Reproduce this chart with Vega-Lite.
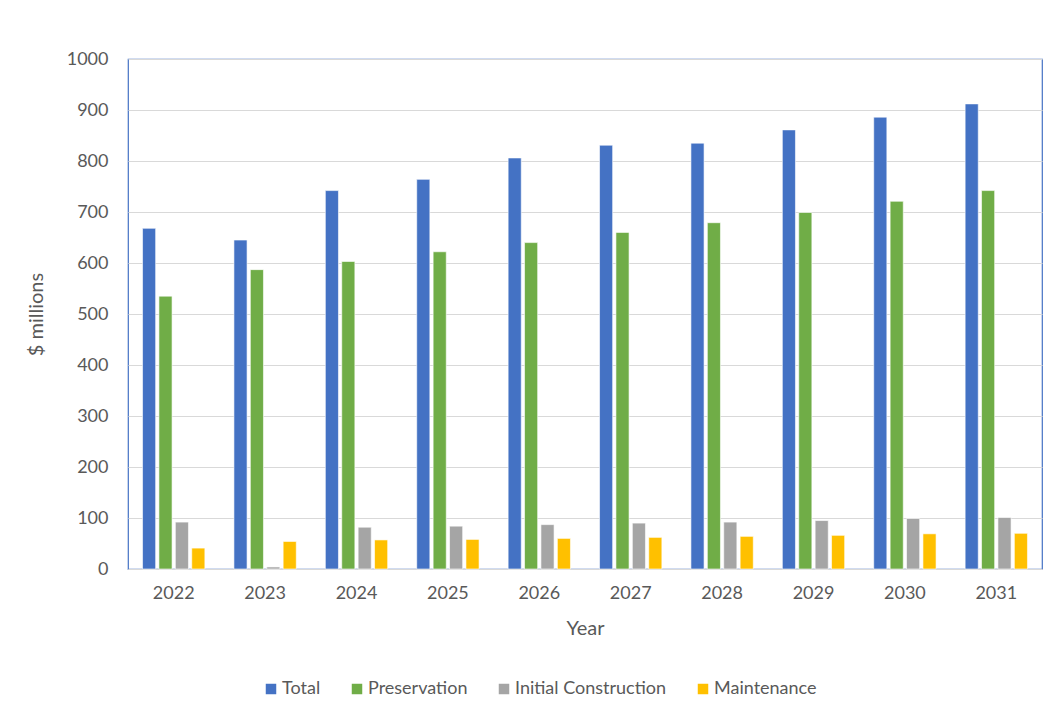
{
  "$schema": "https://vega.github.io/schema/vega-lite/v6.json",
  "width": 914,
  "height": 510,
  "autosize": {"type": "none"},
  "padding": {"left": 128, "top": 59, "right": 12, "bottom": 148},
  "background": "#ffffff",
  "data": {
    "values": [
      {"year": "2022", "series": "Total", "value": 668},
      {"year": "2022", "series": "Preservation", "value": 535},
      {"year": "2022", "series": "Initial Construction", "value": 92},
      {"year": "2022", "series": "Maintenance", "value": 41},
      {"year": "2023", "series": "Total", "value": 645},
      {"year": "2023", "series": "Preservation", "value": 587},
      {"year": "2023", "series": "Initial Construction", "value": 4},
      {"year": "2023", "series": "Maintenance", "value": 54},
      {"year": "2024", "series": "Total", "value": 742},
      {"year": "2024", "series": "Preservation", "value": 603},
      {"year": "2024", "series": "Initial Construction", "value": 82},
      {"year": "2024", "series": "Maintenance", "value": 57},
      {"year": "2025", "series": "Total", "value": 764},
      {"year": "2025", "series": "Preservation", "value": 622},
      {"year": "2025", "series": "Initial Construction", "value": 84},
      {"year": "2025", "series": "Maintenance", "value": 58},
      {"year": "2026", "series": "Total", "value": 806},
      {"year": "2026", "series": "Preservation", "value": 640},
      {"year": "2026", "series": "Initial Construction", "value": 87},
      {"year": "2026", "series": "Maintenance", "value": 60},
      {"year": "2027", "series": "Total", "value": 831},
      {"year": "2027", "series": "Preservation", "value": 660},
      {"year": "2027", "series": "Initial Construction", "value": 90},
      {"year": "2027", "series": "Maintenance", "value": 62},
      {"year": "2028", "series": "Total", "value": 835},
      {"year": "2028", "series": "Preservation", "value": 679},
      {"year": "2028", "series": "Initial Construction", "value": 92},
      {"year": "2028", "series": "Maintenance", "value": 64},
      {"year": "2029", "series": "Total", "value": 861},
      {"year": "2029", "series": "Preservation", "value": 699},
      {"year": "2029", "series": "Initial Construction", "value": 95},
      {"year": "2029", "series": "Maintenance", "value": 66},
      {"year": "2030", "series": "Total", "value": 886},
      {"year": "2030", "series": "Preservation", "value": 721},
      {"year": "2030", "series": "Initial Construction", "value": 99},
      {"year": "2030", "series": "Maintenance", "value": 69},
      {"year": "2031", "series": "Total", "value": 912},
      {"year": "2031", "series": "Preservation", "value": 742},
      {"year": "2031", "series": "Initial Construction", "value": 101},
      {"year": "2031", "series": "Maintenance", "value": 70}
    ]
  },
  "mark": {"type": "bar", "stroke": "#ffffff", "strokeWidth": 0.6},
  "encoding": {
    "x": {
      "field": "year",
      "type": "nominal",
      "title": "Year",
      "scale": {"paddingInner": 0.318, "paddingOuter": 0.159},
      "axis": {
        "labelAngle": 0,
        "ticks": false,
        "labelPadding": 15,
        "titlePadding": 16,
        "domainColor": "#D9D9D9",
        "domainWidth": 1.2
      }
    },
    "xOffset": {
      "field": "series",
      "type": "nominal",
      "sort": ["Total", "Preservation", "Initial Construction", "Maintenance"],
      "scale": {"paddingInner": 0.2, "paddingOuter": 0}
    },
    "y": {
      "field": "value",
      "type": "quantitative",
      "title": "$ millions",
      "scale": {"domain": [0, 1000]},
      "axis": {
        "values": [0, 100, 200, 300, 400, 500, 600, 700, 800, 900, 1000],
        "format": "d",
        "ticks": false,
        "domain": false,
        "labelPadding": 20,
        "titlePadding": 20,
        "gridColor": "#D9D9D9",
        "gridWidth": 1.2
      }
    },
    "color": {
      "field": "series",
      "type": "nominal",
      "sort": ["Total", "Preservation", "Initial Construction", "Maintenance"],
      "scale": {
        "domain": ["Total", "Preservation", "Initial Construction", "Maintenance"],
        "range": ["#4472C4", "#70AD47", "#A5A5A5", "#FFC000"]
      },
      "legend": {
        "title": null,
        "orient": "none",
        "direction": "horizontal",
        "legendX": 134,
        "legendY": 621,
        "symbolType": "square",
        "symbolSize": 110,
        "symbolStrokeWidth": 0,
        "labelOffset": 2,
        "columnPadding": 27
      }
    }
  },
  "config": {
    "font": "Lato",
    "view": {"stroke": "#4472C4", "strokeWidth": 1.2},
    "axis": {
      "labelFont": "Lato",
      "titleFont": "Lato",
      "labelFontSize": 18,
      "titleFontSize": 20,
      "labelColor": "#595959",
      "titleColor": "#595959",
      "titleFontWeight": "normal"
    },
    "legend": {
      "labelFont": "Lato",
      "labelFontSize": 18,
      "labelColor": "#595959"
    }
  }
}
